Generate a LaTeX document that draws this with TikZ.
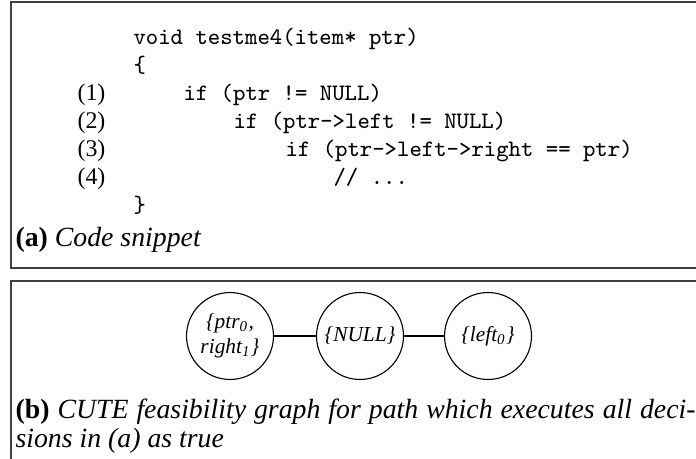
\documentclass[tikz,border=0pt]{standalone}
\usepackage{fontspec}
\setmainfont{Liberation Serif}
\begin{document}
\begin{tikzpicture}[x=0.36pt,y=-0.36pt,
  code/.style={anchor=base west,inner sep=0pt,font=\fontsize{8.5}{10}\selectfont\ttfamily},
  num/.style={anchor=base west,inner sep=0pt,font=\fontsize{8.6}{10}\selectfont},
  captxt/.style={anchor=base west,inner sep=0pt,font=\fontsize{10}{12}\selectfont},
  vset/.style={circle,draw,line width=0.4pt,minimum size=31.3pt,inner sep=0pt,align=center,
    font=\fontsize{7.7}{9}\selectfont\itshape},
  framel/.style={line width=0.6pt,draw=black!75},
  edge/.style={line width=0.45pt}]
\useasboundingbox (0,0) rectangle (696,459);
\fill[white] (0,0) rectangle (696,459);
% frames
\draw[framel] (696,2) -- (11,2) -- (11,268) -- (696,268);
\draw[framel] (696,281) -- (11,281) -- (11,459);
% code
\node[code] (l0) at (133,45) {void testme4(item* ptr)};
\node[code] (l1) at (133,73) {\{};
\node[code] (l2) at (183,101) {if (ptr != NULL)};
\node[code] (l3) at (233,129) {if (ptr->left != NULL)};
\node[code] (l4) at (285,157) {if (ptr->left->right == ptr)};
\node[code] (l5) at (333,185) {// ...};
\node[code] (l6) at (133,213) {\}};
\node[num] (n1) at (77,101) {(1)};
\node[num] (n2) at (77,129) {(2)};
\node[num] (n3) at (77,157) {(3)};
\node[num] (n4) at (77,185) {(4)};
\node[captxt] (capa) at (15,247) {\textbf{(a)} \textit{Code snippet}};
% graph
\node[vset] (v1) at (230,336) {\{ptr\textsubscript{0},\\right\textsubscript{1}\}};
\node[vset] (v2) at (360,336) {\{NULL\}};
\node[vset] (v3) at (488,336) {\{left\textsubscript{0}\}};
\draw[edge] (v1) -- (v2);
\draw[edge] (v2) -- (v3);
\node[captxt] (capb1) at (15,418) {\makebox[244.8pt][s]{\textbf{(b)} \textit{CUTE feasibility graph for path which executes all deci-}}};
\node[captxt] (capb2) at (15,447) {\textit{sions in (a) as true}};
\end{tikzpicture}
\end{document}
